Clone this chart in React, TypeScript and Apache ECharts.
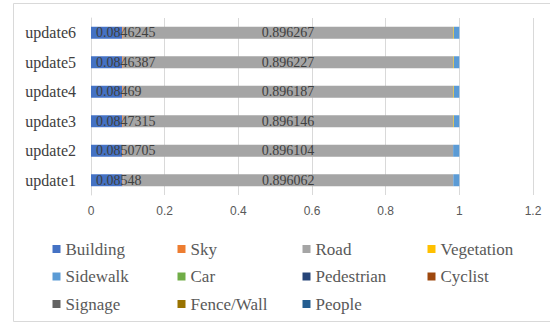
import React, { useEffect, useRef } from "react";
import * as echarts from "echarts";

// Stacked class shares per update round (bottom to top: update1 .. update6)
const categories = ["update1", "update2", "update3", "update4", "update5", "update6"];

const seriesNames = [
  "Building", "Sky", "Road", "Vegetation", "Sidewalk", "Car",
  "Pedestrian", "Cyclist", "Signage", "Fence/Wall", "People",
];

const building = [0.08548, 0.0850705, 0.0847315, 0.08469, 0.0846387, 0.0846245];
const sky = [0.002, 0.002, 0.002, 0.002, 0.002, 0.002];
const road = [0.896062, 0.896104, 0.896146, 0.896187, 0.896227, 0.896267];
const vegetation = [0, 0, 0.002, 0.002, 0.002, 0.002];
const sidewalk = [0.0165, 0.0168, 0.0151, 0.0151, 0.0151, 0.0151];
const car = [0, 0, 0, 0, 0, 0];
const pedestrian = [0, 0, 0, 0, 0, 0];
const cyclist = [0, 0, 0, 0, 0, 0];
const signage = [0, 0, 0, 0, 0, 0];
const fenceWall = [0, 0, 0, 0, 0, 0];
const people = [0, 0, 0, 0, 0, 0];

const seriesValues = [
  building, sky, road, vegetation, sidewalk, car,
  pedestrian, cyclist, signage, fenceWall, people,
];

const colors = [
  "#4472C4", "#ED7D31", "#A5A5A5", "#FFC000", "#5B9BD5", "#70AD47",
  "#264478", "#9E480E", "#636363", "#997300", "#255E91",
];

const xTicks = { min: 0, max: 1.2, interval: 0.2 };

// Legend grid: four columns, three rows, filled row by row
const LEGEND_COLS = [52.5, 177.5, 302.5, 427.5];
const LEGEND_ROWS = [249, 276.5, 304];

const SERIF = "Times New Roman";
const SANS = "Liberation Sans";

export default function App() {
  const ref = useRef<HTMLDivElement>(null);

  useEffect(() => {
    if (!ref.current) return;
    const chart = echarts.init(ref.current, undefined, { renderer: "svg" });

    const labelled = new Set(["Building", "Road"]);

    const series = seriesNames.map((name, i) => ({
      name,
      type: "bar",
      stack: "total",
      barWidth: 12,
      data: seriesValues[i],
      itemStyle: { color: colors[i] },
      label: labelled.has(name)
        ? {
            show: true,
            position: name === "Building" ? "insideLeft" : "inside",
            distance: 5,
            color: "#404040",
            fontFamily: SERIF,
            fontSize: 14,
            formatter: (p: any) => String(p.value),
          }
        : { show: false },
    }));

    const legendItems = seriesNames.map((name, i) => {
      const cx = LEGEND_COLS[i % 4];
      const cy = LEGEND_ROWS[Math.floor(i / 4)];
      return {
        type: "group",
        silent: true,
        children: [
          {
            type: "rect",
            shape: { x: cx, y: cy - 4, width: 8, height: 8 },
            style: { fill: colors[i] },
          },
          {
            type: "text",
            x: cx + 13,
            y: cy,
            style: {
              text: name,
              fill: "#595959",
              font: "17px 'Times New Roman', serif",
              verticalAlign: "middle",
              align: "left",
            },
          },
        ],
      };
    });

    chart.setOption({
      animation: false,
      color: colors,
      grid: { left: 91, right: 17, top: 18, bottom: 130, containLabel: false },
      xAxis: {
        type: "value",
        min: xTicks.min,
        max: xTicks.max,
        interval: xTicks.interval,
        axisLine: { show: false },
        axisTick: { show: false },
        splitLine: { lineStyle: { color: "#d9d9d9", width: 1 } },
        axisLabel: {
          color: "#595959",
          fontFamily: SANS,
          fontSize: 12,
          margin: 10,
          formatter: (v: number) => String(Math.round(v * 10) / 10),
        },
      },
      yAxis: {
        type: "category",
        data: categories,
        axisLine: { show: true, lineStyle: { color: "#d9d9d9" } },
        axisTick: { show: false },
        axisLabel: {
          color: "#404040",
          fontFamily: SERIF,
          fontSize: 16,
          margin: 15,
        },
      },
      graphic: [
        {
          type: "rect",
          shape: { x: 13.5, y: 3.5, width: 540, height: 318 },
          style: { fill: "none", stroke: "#d9d9d9", lineWidth: 1 },
          silent: true,
        },
        ...legendItems,
      ],
      series,
    });

    return () => chart.dispose();
  }, []);

  return (
    <div
      ref={ref}
      style={{ position: "fixed", left: 0, top: 0, width: 550, height: 325, background: "#fff" }}
    />
  );
}
